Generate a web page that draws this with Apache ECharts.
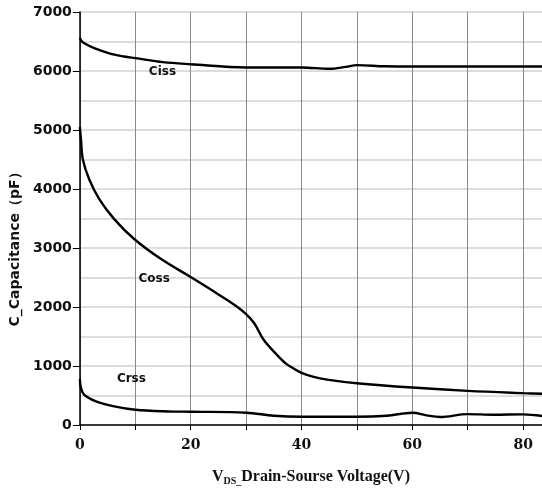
<!DOCTYPE html>
<html><head><meta charset="utf-8">
<script src="https://cdn.jsdelivr.net/npm/echarts@6/dist/echarts.min.js"></script>
<style>html,body{margin:0;padding:0;background:#fff}#c{width:542px;height:491px}</style>
</head><body><div id="c"></div>
<script>
const cissV = [0, 0.3, 0.8, 2.6, 5.6, 8, 10, 15, 20, 30, 40, 45, 48, 50, 55, 60, 70, 80, 84];
const cissC = [6560, 6510, 6470, 6386, 6290, 6245, 6218, 6150, 6115, 6060, 6060, 6037, 6070, 6100, 6080, 6076, 6076, 6076, 6076];
const cossV = [0, 0.2, 0.54, 1.68, 3.5, 6.2, 9.8, 14.6, 20, 24.8, 28, 30, 31.5, 33.2, 35.6, 37.2, 38.8, 40, 42.2, 44.6, 50, 60, 70, 80, 84];
const cossC = [5050, 4840, 4500, 4165, 3828, 3490, 3153, 2816, 2507, 2226, 2030, 1880, 1720, 1440, 1186, 1040, 945, 885, 815, 770, 708, 635, 579, 540, 528];
const crssV = [0, 0.2, 0.8, 2.9, 6.2, 10, 16, 20, 30, 35, 40, 50, 55.4, 60, 62.6, 65, 70, 74.6, 80, 84];
const crssC = [780, 624, 511, 400, 315, 258, 230, 225, 208, 157, 140, 140, 157, 208, 163, 135, 185, 174, 180, 146];
const labelNames = ['Ciss', 'Coss', 'Crss'];
const labelPos = [[14.9, 5990], [13.4, 2480], [9.3, 780]];
const xTicks = [0, 20, 40, 60, 80];

const pairs = (xs, ys) => xs.map((x, i) => [x, ys[i]]);
const lineSeries = (name, data, li) => ({
  name, type: 'line', smooth: 0.35, showSymbol: false, data,
  lineStyle: {color: '#000', width: 2.4}, itemStyle: {color: '#000'},
  markPoint: {
    symbol: 'circle', symbolSize: 0,
    label: {show: true, formatter: labelNames[li], color: '#111', fontWeight: 'bold',
      fontFamily: 'DejaVu Sans', fontSize: 12, position: 'inside'},
    data: [{coord: labelPos[li]}]
  }
});

const chart = echarts.init(document.getElementById('c'));
chart.setOption({
  animation: false,
  grid: {left: 79, right: 0, top: 12, bottom: 64},
  xAxis: {
    type: 'value', min: 0, max: 83.4, interval: 10,
    axisLine: {lineStyle: {color: '#000', width: 1.5}},
    axisTick: {show: true, length: 5, lineStyle: {color: '#000'}},
    axisLabel: {
      showMaxLabel: false, margin: 13, color: '#111', fontWeight: 'bold',
      fontFamily: 'DejaVu Serif', fontSize: 14,
      formatter: v => xTicks.includes(v) ? String(v) : ''
    },
    splitLine: {show: true, lineStyle: {color: '#8a8a8a', width: 1}},
    name: 'V{sub|DS_}Drain-Sourse Voltage(V)', nameLocation: 'middle', nameGap: 43,
    nameTextStyle: {
      color: '#111', fontWeight: 'bold', fontFamily: 'Liberation Serif', fontSize: 16,
      rich: {sub: {fontSize: 10, fontWeight: 'bold', fontFamily: 'Liberation Serif', verticalAlign: 'bottom', padding: [8, 0, 0, 0], color: '#111'}}
    }
  },
  yAxis: {
    type: 'value', min: 0, max: 7000, interval: 1000,
    axisLine: {show: true, lineStyle: {color: '#000', width: 1.5}},
    axisTick: {show: true, length: 7, lineStyle: {color: '#000'}},
    axisLabel: {margin: 8, color: '#111', fontWeight: 'bold', fontFamily: 'DejaVu Sans', fontSize: 14,
      formatter: v => String(v)},
    splitLine: {show: true, lineStyle: {color: '#d2d2d2', width: 1.5}},
    minorTick: {show: false, splitNumber: 2},
    minorSplitLine: {show: true, lineStyle: {color: '#d2d2d2', width: 1.5}},
    name: 'C_Capacitance（pF）', nameLocation: 'middle', nameGap: 56, nameRotate: 90,
    nameTextStyle: {color: '#111', fontWeight: 'bold', fontFamily: 'DejaVu Sans', fontSize: 14, padding: [0, 0, 0, -55]}
  },
  series: [
    lineSeries('Ciss', pairs(cissV, cissC), 0),
    lineSeries('Coss', pairs(cossV, cossC), 1),
    lineSeries('Crss', pairs(crssV, crssC), 2)
  ]
});
</script></body></html>
